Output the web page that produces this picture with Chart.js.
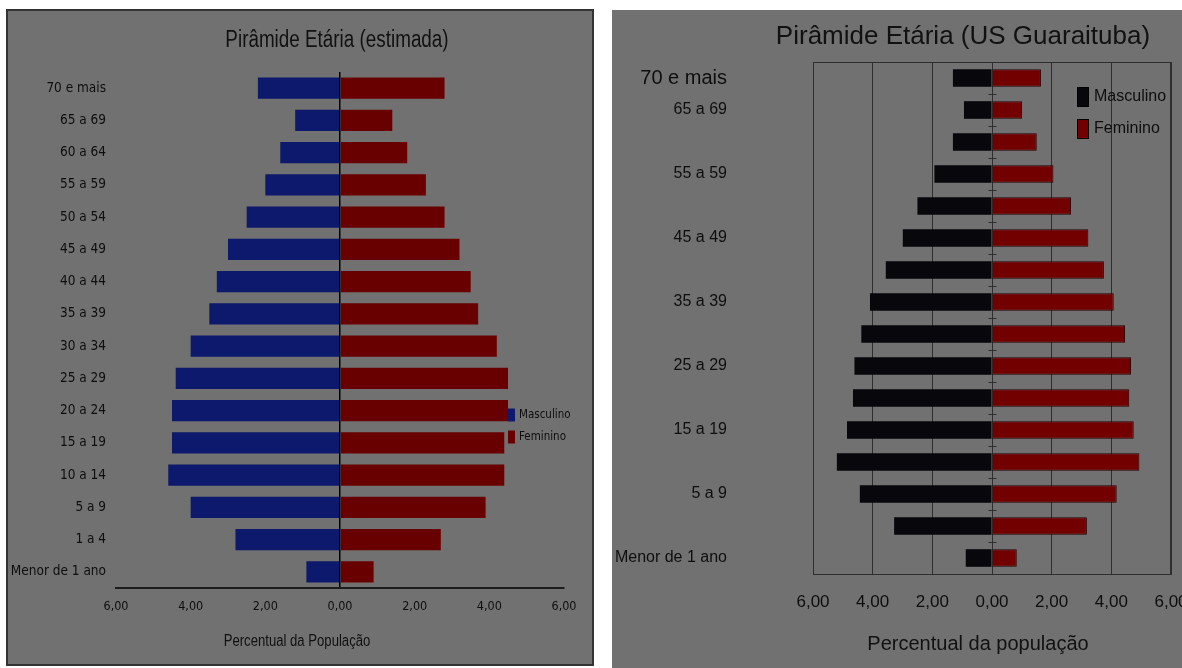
<!DOCTYPE html>
<html lang="pt-BR">
<head>
<meta charset="utf-8">
<title>Pirâmide Etária</title>
<script src="https://cdn.jsdelivr.net/npm/chart.js@4.4.1/dist/chart.umd.min.js"></script>
<style>
  html, body { margin: 0; padding: 0; background: #fff; }
  body { width: 1182px; height: 668px; position: relative; overflow: hidden; }
  .panel { position: absolute; background: #717171; overflow: hidden; }
  #pEst { left: 6px; top: 9px; width: 584px; height: 653px; border: 2px solid #333; }
  #pGua { left: 612px; top: 10px; width: 570px; height: 658px; }
  .panel canvas { position: absolute; left: 0; top: 0; }
  .txt { position: absolute; color: #111; white-space: nowrap; line-height: 1;
         font-family: "Liberation Sans", Arial, sans-serif; transform: translate(-50%, -50%); }
  .cond { transform: translate(-50%, -50%) scaleX(0.82); }
</style>
</head>
<body>

<div class="panel" id="pEst">
  <canvas id="estC" width="584" height="653"></canvas>
  <div class="txt cond" style="left:329px;top:28px;font-size:23px">Pirâmide Etária (estimada)</div>
  <div class="txt cond" style="left:289px;top:630px;font-size:16px">Percentual da População</div>
</div>

<div class="panel" id="pGua">
  <canvas id="guaC" width="570" height="658"></canvas>
  <div class="txt" style="left:351px;top:25px;font-size:26px">Pirâmide Etária (US Guaraituba)</div>
  <div class="txt" style="left:366px;top:633px;font-size:20px">Percentual da população</div>
</div>

<script>
// faixas etárias, de cima para baixo
const faixas = ['70 e mais', '65 a 69', '60 a 64', '55 a 59', '50 a 54', '45 a 49', '40 a 44', '35 a 39',
  '30 a 34', '25 a 29', '20 a 24', '15 a 19', '10 a 14', '5 a 9', '1 a 4', 'Menor de 1 ano'];

// pirâmide estimada (% da população)
const estMasc = [2.2, 1.2, 1.6, 2.0, 2.5, 3.0, 3.3, 3.5, 4.0, 4.4, 4.5, 4.5, 4.6, 4.0, 2.8, 0.9];
const estFem  = [2.8, 1.4, 1.8, 2.3, 2.8, 3.2, 3.5, 3.7, 4.2, 4.5, 4.5, 4.4, 4.4, 3.9, 2.7, 0.9];

// pirâmide da US Guaraituba (% da população)
const guaMasc = [1.31, 0.94, 1.31, 1.93, 2.50, 2.99, 3.56, 4.09, 4.38, 4.61, 4.66, 4.86, 5.20, 4.43, 3.28, 0.88];
const guaFem  = [1.64, 1.01, 1.50, 2.06, 2.65, 3.23, 3.75, 4.08, 4.46, 4.66, 4.60, 4.75, 4.94, 4.18, 3.18, 0.83];

const eixoMin = -6, eixoMax = 6, eixoPasso = 2;

const COND = '"DejaVu Sans Condensed", "Liberation Sans", sans-serif';
const ARIAL = '"Liberation Sans", Arial, sans-serif';
const TXT = '#0e0e0e';

Chart.defaults.color = TXT;
Chart.defaults.font.family = ARIAL;

const fmt = v => Math.abs(v).toFixed(2).replace('.', ',');

// fixa o tamanho do eixo e ignora a folga que o Chart.js reserva para os rótulos
const fixaLargura = w => s => { s.width = w; s.paddingTop = 0; s.paddingBottom = 0; };
const fixaAltura = h => s => { s.height = h; s.paddingLeft = 0; s.paddingRight = 0; };

// legenda com caixinhas, desenhada dentro da área do gráfico
const boxLegend = {
  id: 'boxLegend',
  afterDraw(chart, args, o) {
    const ctx = chart.ctx;
    ctx.save();
    ctx.font = o.size + 'px ' + o.family;
    ctx.textBaseline = 'middle';
    chart.data.datasets.forEach((ds, i) => {
      const y = o.y + i * o.gap;
      ctx.fillStyle = ds.backgroundColor;
      ctx.fillRect(o.x, y - o.h / 2, o.w, o.h);
      if (o.stroke) {
        ctx.strokeStyle = o.stroke;
        ctx.lineWidth = 1;
        ctx.strokeRect(o.x + 0.5, y - o.h / 2 + 0.5, o.w - 1, o.h - 1);
      }
      ctx.fillStyle = TXT;
      ctx.fillText(ds.label, o.x + o.w + o.space, y);
    });
    ctx.restore();
  }
};

// moldura da área de plotagem + marquinhas no eixo zero
const plotFrame = {
  id: 'plotFrame',
  beforeDatasetsDraw(chart) {
    const { ctx, chartArea: a } = chart;
    ctx.save();
    ctx.strokeStyle = '#2e2e2e';
    ctx.lineWidth = 1;
    ctx.strokeRect(a.left + 0.5, a.top + 0.5, a.right - a.left - 1, a.bottom - a.top);
    ctx.restore();
  },
  afterDatasetsDraw(chart) {
    const { ctx } = chart;
    const xs = chart.scales.x, ys = chart.scales.y;
    const x0 = Math.round(xs.getPixelForValue(0)) + 0.5;
    ctx.save();
    ctx.strokeStyle = '#2e2e2e';
    ctx.lineWidth = 1;
    ctx.beginPath();
    for (let i = 1; i < faixas.length; i++) {
      const y = Math.round(ys.getPixelForValue(i - 0.5)) + 0.5;
      ctx.moveTo(x0 - 4, y);
      ctx.lineTo(x0 + 4, y);
    }
    ctx.stroke();
    ctx.restore();
  }
};

// --- pirâmide estimada ---
new Chart(document.getElementById('estC'), {
  type: 'bar',
  data: {
    labels: faixas,
    datasets: [
      { label: 'Masculino', data: estMasc.map(v => -v), backgroundColor: '#0c196d', borderWidth: 0,
        barPercentage: 0.66, categoryPercentage: 1 },
      { label: 'Feminino', data: estFem, backgroundColor: '#690000', borderWidth: 0,
        barPercentage: 0.66, categoryPercentage: 1 }
    ]
  },
  plugins: [boxLegend],
  options: {
    indexAxis: 'y',
    responsive: false,
    animation: false,
    layout: { padding: { top: 61, right: 28, left: 0, bottom: 0 } },
    plugins: {
      legend: { display: false },
      tooltip: { enabled: false },
      boxLegend: { x: 500, y: 404, gap: 22, w: 7, h: 13, space: 4, size: 11.5, family: COND }
    },
    scales: {
      x: {
        stacked: true,
        min: eixoMin, max: eixoMax,
        z: 1,
        afterFit: fixaAltura(76),
        grid: {
          drawTicks: false,
          color: c => (c.tick && c.tick.value === 0) ? '#000' : 'rgba(0,0,0,0)',
          lineWidth: 1.5
        },
        border: { display: true, color: '#1c1c1c', width: 2 },
        ticks: { stepSize: eixoPasso, padding: 11, font: { size: 12.5, family: COND }, callback: fmt }
      },
      y: {
        stacked: true,
        afterFit: fixaLargura(108),
        grid: { display: false, drawTicks: false },
        border: { display: false },
        ticks: { autoSkip: false, padding: 10, font: { size: 13.5, family: COND } }
      }
    }
  }
});

// --- pirâmide US Guaraituba ---
new Chart(document.getElementById('guaC'), {
  type: 'bar',
  data: {
    labels: faixas,
    datasets: [
      { label: 'Masculino', data: guaMasc.map(v => -v), backgroundColor: '#07070c', borderWidth: 0,
        barPercentage: 0.55, categoryPercentage: 1 },
      { label: 'Feminino', data: guaFem, backgroundColor: '#720000', borderColor: '#240000', borderWidth: 1,
        barPercentage: 0.55, categoryPercentage: 1 }
    ]
  },
  plugins: [plotFrame, boxLegend],
  options: {
    indexAxis: 'y',
    responsive: false,
    animation: false,
    layout: { padding: { top: 52, right: 11, left: 0, bottom: 0 } },
    plugins: {
      legend: { display: false },
      tooltip: { enabled: false },
      boxLegend: { x: 465, y: 87, gap: 32, w: 12, h: 20, space: 5, size: 16, family: ARIAL, stroke: '#000' }
    },
    scales: {
      x: {
        stacked: true,
        min: eixoMin, max: eixoMax,
        afterFit: fixaAltura(94),
        grid: { drawTicks: false, color: '#2e2e2e', lineWidth: 1 },
        border: { display: true, color: '#2e2e2e', width: 1 },
        ticks: { stepSize: eixoPasso, padding: 18, font: { size: 17, family: ARIAL }, callback: fmt }
      },
      y: {
        stacked: true,
        afterFit: fixaLargura(201),
        grid: { display: false, drawTicks: false },
        border: { display: false },
        ticks: {
          autoSkip: false,
          padding: 86,
          // só uma faixa sim, outra não (e a do topo)
          callback: (v, i) => (i === 0 || i % 2 === 1) ? faixas[i] : '',
          font: c => c.index === 0 ? { size: 20, family: ARIAL } : { size: 16, family: ARIAL }
        }
      }
    }
  }
});
</script>
</body>
</html>
